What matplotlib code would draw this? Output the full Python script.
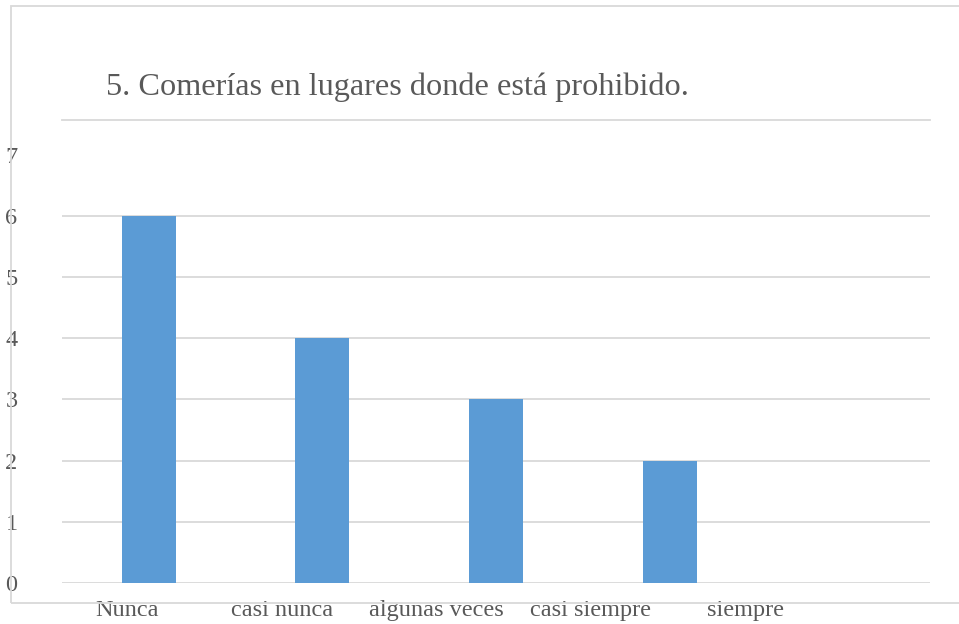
import matplotlib
matplotlib.use("Agg")
import matplotlib.pyplot as plt
from matplotlib.patches import Rectangle
import numpy as np

categories = ["Nunca", "casi nunca", "algunas veces", "casi siempre", "siempre"]
values = [6, 4, 3, 2, 0]
yticks = [0, 1, 2, 3, 4, 5, 6, 7]
title = "5. Comerías en lugares donde está prohibido."

W, H = 959, 624
fig = plt.figure(figsize=(W / 100, H / 100), dpi=100)
plt.rcParams['font.family'] = ['Liberation Serif', 'DejaVu Serif']

text_color = "#595959"
grid_color = "#D9D9D9"
bar_color = "#5B9BD5"

# outer chart frame
fig.patches.append(Rectangle((10.5 / W, 1 - 603 / H), 2.0, (603 - 5.5) / H,
                             transform=fig.transFigure, fill=False,
                             edgecolor=grid_color, linewidth=1.3))

ax = fig.add_axes([62 / W, 1 - 583 / H, (930 - 62) / W, (583 - 120) / H])
x = np.arange(len(categories))
ax.bar(x, values, width=0.31, color=bar_color, zorder=3)
ax.set_xlim(-0.5, len(categories) - 0.5)
ax.set_ylim(0, 7.565)

for v in yticks[:-1]:
    ax.axhline(v, color=grid_color, linewidth=1.3, zorder=1)
ax.axhline(7.565, color=grid_color, linewidth=1.3, zorder=1, clip_on=False)

for s in ax.spines.values():
    s.set_visible(False)

ax.set_yticks(yticks)
ax.set_yticklabels([str(v) for v in yticks], fontsize=17.5, color=text_color)
ax.tick_params(axis='y', length=0, pad=32)

# category labels (offset as rendered in the reference)
label_pos = x * 0.89 - 0.125
ax.set_xticks(label_pos)
ax.set_xticklabels(categories, fontsize=17.5, color=text_color)
ax.tick_params(axis='x', length=0, pad=12)

fig.text(397 / W, 1 - 87 / H, title, fontsize=23.2, color=text_color,
         ha='center', va='center')

fig.savefig("out.png", dpi=100, facecolor="white")
